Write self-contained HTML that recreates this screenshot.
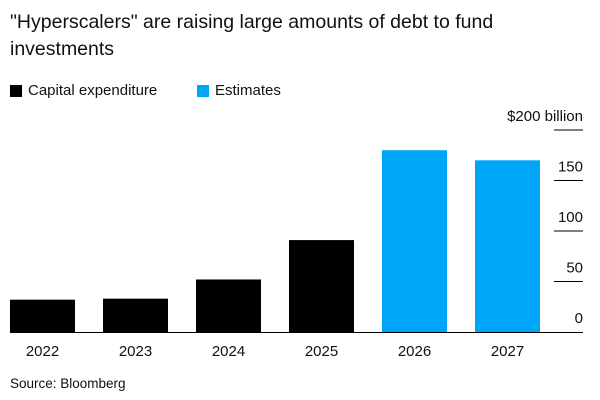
<!DOCTYPE html>
<html><head><meta charset="utf-8"><style>
body{margin:0;width:600px;height:400px;background:#fff;font-family:"Liberation Sans",sans-serif;overflow:hidden;position:relative}
.t{position:absolute;left:10px;top:9px;font-size:19.5px;line-height:27px;color:#111;width:540px}
.lg{position:absolute;top:82px;font-size:15px;color:#111;display:flex;align-items:center}
.sw{width:12px;height:12px;margin-right:6px;display:inline-block}
.src{position:absolute;left:10px;top:376px;font-size:13.5px;color:#111}
</style></head><body>
<div class="t">"Hyperscalers" are raising large amounts of debt to fund investments</div>
<div class="lg" style="left:10px"><span class="sw" style="background:#000"></span>Capital expenditure</div>
<div class="lg" style="left:197px"><span class="sw" style="background:#00a6f6"></span>Estimates</div>
<svg id="c" width="600" height="400" style="position:absolute;left:0;top:0"></svg>
<div class="src">Source: Bloomberg</div>
<script>
const categories=["2022","2023","2024","2025","2026","2027"];
const values=[32,33,52,91,180,170];
const isEstimate=[false,false,false,false,true,true];
const ticks=[0,50,100,150,200];
const tickLabels=["0","50","100","150","$200 billion"];
const svg=document.getElementById('c');const NS="http://www.w3.org/2000/svg";
const y=v=>332-v*1.01;
const x0=10,step=93,bw=65;
function mk(t,a){const e=document.createElementNS(NS,t);for(const k in a)e.setAttribute(k,a[k]);svg.appendChild(e);return e;}
ticks.forEach((v,i)=>{
 if(v>0){const l=mk('line',{x1:554,x2:583,y1:y(v),y2:y(v),stroke:'#000','stroke-width':1});
 
 }
 const t=mk('text',{x:583,y:y(v)-9,'text-anchor':'end','font-size':15,fill:'#111'});
 t.textContent=tickLabels[i];
 
 
});
categories.forEach((c,i)=>{
 const r=mk('rect',{x:x0+i*step,y:y(values[i]),width:bw,height:332-y(values[i]),fill:isEstimate[i]?'#00a6f6':'#000'});
 
 
 const t=mk('text',{x:x0+i*step+bw/2,y:356,'text-anchor':'middle','font-size':15,fill:'#111'});
 t.textContent=c;
 
 
});
const b=mk('line',{x1:10,x2:583,y1:332.5,y2:332.5,stroke:'#000','stroke-width':1});


</script>
</body></html>
